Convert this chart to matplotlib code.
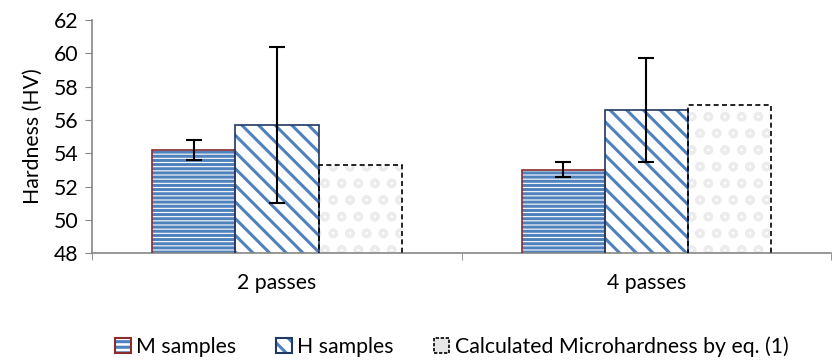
import matplotlib.pyplot as plt
import numpy as np
from matplotlib.patches import Patch

plt.rcParams['font.family'] = ['Lato', 'DejaVu Sans']
plt.rcParams['hatch.linewidth'] = 2.2

categories = ['2 passes', '4 passes']
m_vals = [54.2, 53.0]
m_err = [0.6, 0.45]
h_vals = [55.7, 56.6]
h_err = [4.7, 3.1]
calc_vals = [53.3, 56.9]
yticks = [48, 50, 52, 54, 56, 58, 60, 62]
labels = ['M samples', 'H samples', 'Calculated Microhardness by eq. (1)']

blue = '#4f81bd'
m_edge = '#8b2d2d'
h_edge = '#1f3864'
x = np.arange(len(categories))
w = 0.225
fs = 15.3

fig = plt.figure(figsize=(8.32, 3.6), dpi=100)
ax = fig.add_axes([0.111, 0.297, 0.888, 0.647])

# M samples: horizontal lines
ax.bar(x - w, m_vals, w, color='white', edgecolor=blue, hatch='----', linewidth=0, zorder=2)
ax.bar(x - w, m_vals, w, fill=False, edgecolor=m_edge, linewidth=1.2, zorder=3)
# H samples: diagonals
ax.bar(x, h_vals, w, color='white', edgecolor=blue, hatch='\\\\', linewidth=0, zorder=2)
ax.bar(x, h_vals, w, fill=False, edgecolor=h_edge, linewidth=1.2, zorder=3)
# calculated
ax.bar(x + w, calc_vals, w, color='white', edgecolor='#ececec', hatch='o', linewidth=0, zorder=2)
ax.bar(x + w, calc_vals, w, fill=False, edgecolor='black', linestyle=(0, (3, 2)), linewidth=1.2, zorder=3)

ax.errorbar(x - w, m_vals, yerr=m_err, fmt='none', ecolor='black', elinewidth=1.5, capsize=6, capthick=1.5, zorder=4)
ax.errorbar(x, h_vals, yerr=h_err, fmt='none', ecolor='black', elinewidth=1.5, capsize=6, capthick=1.5, zorder=4)

ax.set_ylim(48, 62)
ax.set_xlim(-0.5, 1.5)
ax.set_yticks(yticks)
ax.set_xticks(x)
ax.set_xticklabels(categories)
ax.set_xticks([-0.5, 0.5, 1.5], minor=True)
ax.tick_params(axis='x', which='major', length=0, pad=14, labelsize=fs)
ax.tick_params(axis='x', which='minor', length=5, color='#868686')
ax.tick_params(axis='y', length=5, color='#868686', labelsize=fs, pad=5)
ax.set_ylabel('Hardness (HV)', fontsize=fs, labelpad=8)
for s in ['top', 'right']:
    ax.spines[s].set_visible(False)
for s in ['left', 'bottom']:
    ax.spines[s].set_color('#868686')
    ax.spines[s].set_linewidth(1.2)

handles = [
    (Patch(facecolor='white', edgecolor=blue, hatch='---', linewidth=0),
     Patch(fill=False, edgecolor=m_edge, linewidth=1.5)),
    (Patch(facecolor='white', edgecolor=blue, hatch='\\\\', linewidth=0),
     Patch(fill=False, edgecolor=h_edge, linewidth=1.5)),
    Patch(facecolor='#e6e6e6', edgecolor='black', linestyle=(0, (2, 1)), linewidth=1.2),
]
fig.legend(handles, labels,
           loc='center', bbox_to_anchor=(0.543, 0.036), ncol=3, frameon=False,
           fontsize=fs, handlelength=0.72, handleheight=0.72, handletextpad=0.25, columnspacing=1.9)

fig.savefig('out.png', dpi=100)
